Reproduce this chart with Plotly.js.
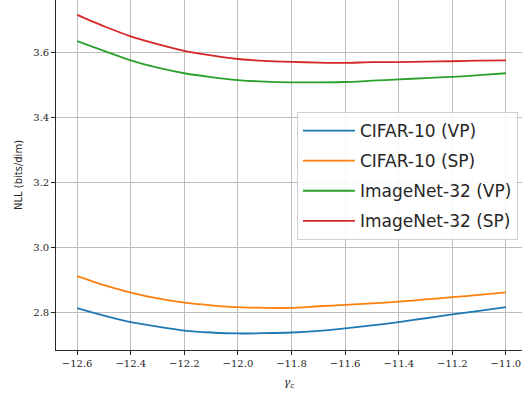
<!DOCTYPE html>
<html>
<head>
<meta charset="utf-8">
<script src="https://cdn.plot.ly/plotly-3.0.1.min.js"></script>
<style>html,body{margin:0;padding:0;background:#fff;}#chart{width:522px;height:394px;}</style>
</head>
<body>
<div id="chart"></div>
<script>
const gammaEps = [-12.6,-12.5,-12.4,-12.3,-12.2,-12.1,-12.0,-11.9,-11.8,-11.7,-11.6,-11.5,-11.4,-11.3,-11.2,-11.1,-11.0];
const cifarVP   = [2.812,2.789,2.769,2.755,2.743,2.737,2.734,2.735,2.737,2.742,2.750,2.759,2.769,2.781,2.793,2.804,2.815];
const cifarSP   = [2.911,2.883,2.860,2.842,2.829,2.821,2.815,2.813,2.813,2.818,2.822,2.827,2.832,2.839,2.846,2.853,2.861];
const imagenetVP = [3.636,3.606,3.577,3.554,3.537,3.525,3.516,3.511,3.509,3.509,3.510,3.514,3.518,3.522,3.526,3.531,3.537];
const imagenetSP = [3.717,3.682,3.651,3.627,3.606,3.592,3.581,3.575,3.572,3.570,3.569,3.571,3.571,3.573,3.574,3.576,3.577];
const seriesNames = ['CIFAR-10 (VP)','CIFAR-10 (SP)','ImageNet-32 (VP)','ImageNet-32 (SP)'];
const seriesColors = ['#1f77b4','#ff7f0e','#2ca02c','#d62728'];
const xTicks = [-12.6,-12.4,-12.2,-12.0,-11.8,-11.6,-11.4,-11.2,-11.0];
const xTickText = ['−12.6','−12.4','−12.2','−12.0','−11.8','−11.6','−11.4','−11.2','−11.0'];
const yTicks = [2.8,3.0,3.2,3.4,3.6];
const yTickText = ['2.8','3.0','3.2','3.4','3.6'];

const allY = [cifarVP, cifarSP, imagenetVP, imagenetSP];
const traces = allY.map((ys, i) => ({
  x: gammaEps, y: ys, type: 'scatter', mode: 'lines',
  name: seriesNames[i], legendgroup: 'g' + i,
  line: {color: seriesColors[i], width: 1.8, shape: 'spline', smoothing: 0.6}
}));

const axisCommon = {
  showline: true, linecolor: '#262626', linewidth: 1.3, mirror: false,
  ticks: 'outside', ticklen: 3.5, tickwidth: 1, tickcolor: '#262626',
  showgrid: true, gridcolor: '#bdbdbd', gridwidth: 1, zeroline: false,
  tickfont: {family: '"DejaVu Serif", serif', size: 10, color: '#262626'}
};

const layout = {
  width: 522, height: 394,
  margin: {l: 56, r: 0, t: 0, b: 44, pad: 0},
  paper_bgcolor: '#ffffff', plot_bgcolor: '#ffffff',
  showlegend: true,
  xaxis: Object.assign({}, axisCommon, {
    range: [-12.679, -10.94], tickvals: xTicks, ticktext: xTickText,
    title: {text: '<i>γ<sub>ε</sub></i>', font: {family: '"DejaVu Serif", serif', size: 11, color: '#262626'}, standoff: 10}
  }),
  yaxis: Object.assign({}, axisCommon, {
    range: [2.683, 3.763], tickvals: yTicks, ticktext: yTickText,
    title: {text: 'NLL (bits/dim)', font: {family: 'DejaVu Sans', size: 10, color: '#262626'}, standoff: 8}
  }),
  legend: {
    x: 0.517, y: 0.68, xanchor: 'left', yanchor: 'top',
    bgcolor: 'rgba(255,255,255,0.85)', bordercolor: '#d0d0d0', borderwidth: 1,
    font: {family: 'DejaVu Sans', size: 17, color: '#262626'},
    traceorder: 'grouped', tracegroupgap: 5, itemwidth: 52
  }
};

Plotly.newPlot('chart', traces, layout, {displayModeBar: false, staticPlot: true});
</script>
</body>
</html>
